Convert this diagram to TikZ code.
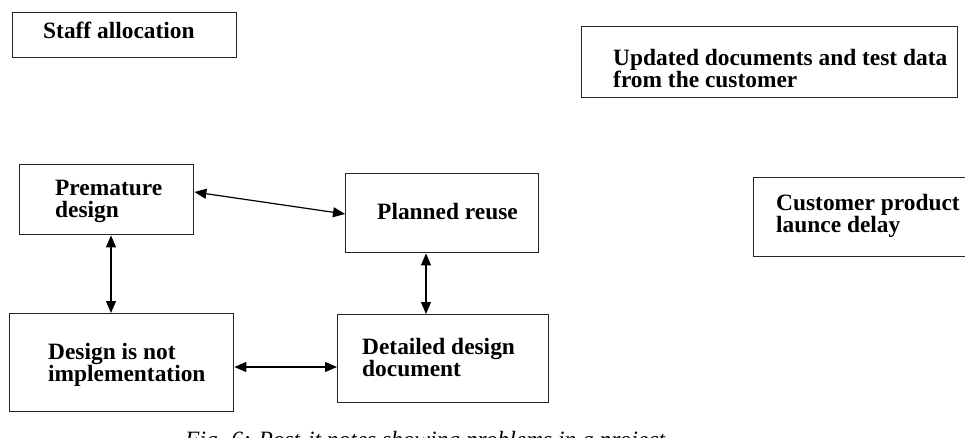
\documentclass[tikz,border=0pt]{standalone}
\usepackage{fontspec}
\setmainfont{Liberation Serif}
\usetikzlibrary{arrows.meta}
\tikzset{
  box/.style={draw=black!85, line width=1.4pt, rectangle, inner sep=0pt, anchor=north west},
  lbl/.style={anchor=base west, inner sep=0pt, align=left,
              font=\fontsize{23.4}{22}\selectfont\bfseries},
  link/.style={line width=1.2pt, {Triangle[length=12pt,width=10pt]}-{Triangle[length=12pt,width=10pt]}}
}
\begin{document}
\begin{tikzpicture}[x=1pt,y=-1pt]
\useasboundingbox (0,0) rectangle (965,438);
% boxes
\node[box, minimum width=224pt, minimum height=45pt] (staffbox) at (12,12) {};
\node[box, minimum width=376pt, minimum height=71pt] (updbox) at (581,26) {};
\node[box, minimum width=230pt, minimum height=79pt] (custbox) at (753,177) {};
\node[box, minimum width=174pt, minimum height=70pt] (prem) at (19,164) {};
\node[box, minimum width=193pt, minimum height=79pt] (plan) at (345,173) {};
\node[box, minimum width=224pt, minimum height=98pt] (dni) at (9,313) {};
\node[box, minimum width=211pt, minimum height=88pt] (ddd) at (337,314) {};
% texts (base = baseline of last line)
\node[lbl] (staffT) at (43,39) {Staff allocation};
\node[lbl] (updT) at (613,88) {Updated documents and test data\\from the customer};
\node[lbl] (custT) at (776,233) {Customer product\\launce delay};
\node[lbl] (premT) at (55,218) {Premature\\design};
\node[lbl] (planT) at (377,219) {Planned reuse};
\node[lbl] (dniT) at (48,381) {Design is not\\implementation};
\node[lbl] (dddT) at (362,376) {Detailed design\\document};
\node[anchor=base west, inner sep=0pt, font=\fontsize{23.4}{24}\selectfont\itshape] (cap) at (185,447) {Fig. 6: Post-it notes showing problems in a project.};
% connectors
\draw[link] ([yshift=-28pt]prem.north east) -- ([yshift=-41pt]plan.north west);
\draw[link] ([xshift=92pt]prem.south west) -- ([xshift=102pt]dni.north west);
\draw[link] ([xshift=81pt]plan.south west) -- ([xshift=89pt]ddd.north west);
\draw[link] ([yshift=-54pt]dni.north east) -- ([yshift=-53pt]ddd.north west);
\end{tikzpicture}
\end{document}
